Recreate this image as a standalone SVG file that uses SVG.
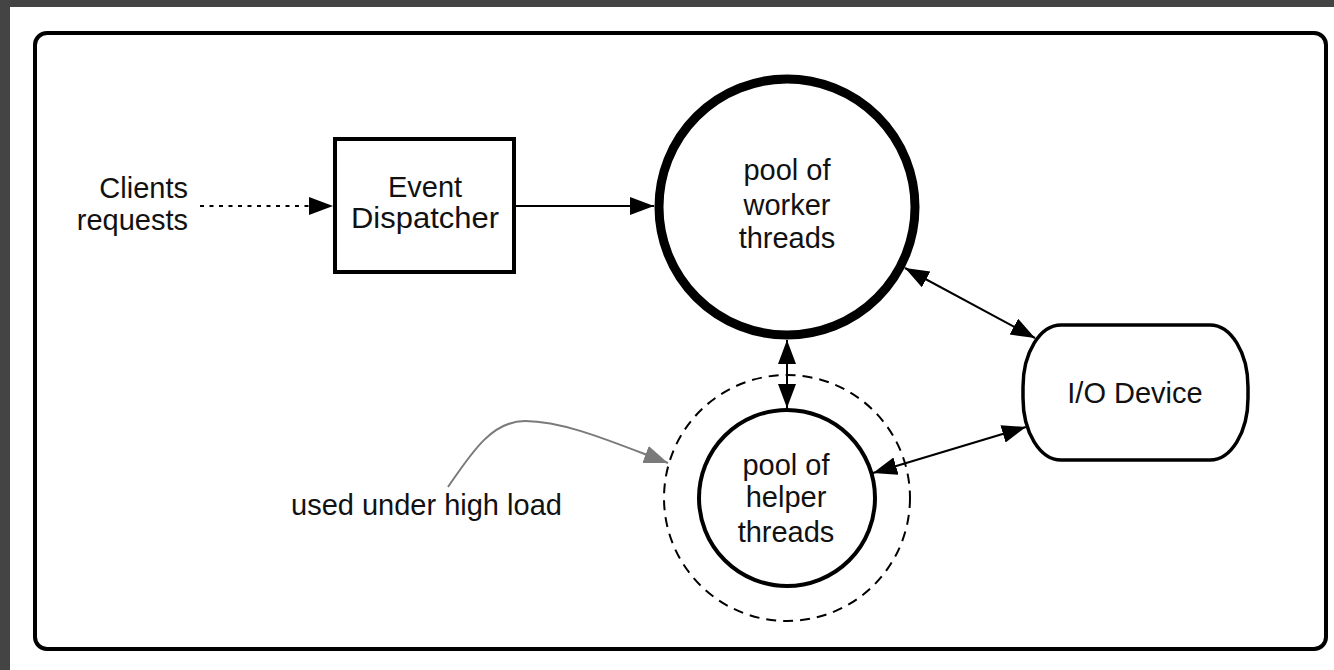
<svg xmlns="http://www.w3.org/2000/svg" width="1334" height="670" viewBox="0 0 1334 670">
  <style>
    .lbl { font-family: "Liberation Sans", Arial, sans-serif; font-size: 29px; fill: #111; }
    .mid { text-anchor: middle; }
    .node { fill: #fff; stroke: #000; }
    .conn { fill: none; stroke: #000; stroke-width: 2; }
  </style>
  <defs>
    <marker id="ah" markerUnits="userSpaceOnUse" markerWidth="26" markerHeight="20" refX="24" refY="9" orient="auto-start-reverse">
      <path d="M0,0 L24,9 L0,18 z" fill="#000"/>
    </marker>
    <marker id="ahg" markerUnits="userSpaceOnUse" markerWidth="26" markerHeight="20" refX="24" refY="9" orient="auto">
      <path d="M0,0 L24,9 L0,18 z" fill="#7a7a7a"/>
    </marker>
  </defs>

  <rect x="0" y="0" width="1334" height="670" fill="#444"/>
  <rect x="10" y="7" width="1324" height="663" fill="#fff"/>
  <rect id="frame" x="35" y="33" width="1291" height="616" rx="12" fill="#fff" stroke="#000" stroke-width="4"/>

  <g id="connectors">
    <path class="conn" d="M200,206 L333,206" stroke-dasharray="4 5.5" marker-end="url(#ah)"/>
    <path class="conn" d="M516,206 L654,206" marker-end="url(#ah)"/>
    <path class="conn" d="M905,268 L1035,338" marker-start="url(#ah)" marker-end="url(#ah)"/>
    <path class="conn" d="M873,473 L1026,427" marker-start="url(#ah)" marker-end="url(#ah)"/>
    <path class="conn" d="M787,340 L787,408" marker-start="url(#ah)" marker-end="url(#ah)"/>
    <path d="M448,487 C472,452 492,421 525,421 C565,421 615,443 668,463" fill="none" stroke="#7a7a7a" stroke-width="2" marker-end="url(#ahg)"/>
  </g>

  <g id="clients">
    <text class="lbl" x="188" y="198" text-anchor="end">Clients</text>
    <text class="lbl" x="188" y="230" text-anchor="end">requests</text>
  </g>

  <g id="dispatcher">
    <rect class="node" x="335" y="139" width="179" height="133" stroke-width="4"/>
    <text class="lbl mid" x="425" y="197">Event</text>
    <text class="lbl mid" x="425" y="228" textLength="148" lengthAdjust="spacingAndGlyphs">Dispatcher</text>
  </g>

  <g id="worker">
    <circle class="node" cx="787" cy="207" r="128" stroke-width="9"/>
    <text class="lbl mid" x="787" y="180">pool of</text>
    <text class="lbl mid" x="787" y="215">worker</text>
    <text class="lbl mid" x="787" y="248">threads</text>
  </g>

  <g id="helper-zone">
    <circle cx="787" cy="498" r="123" fill="none" stroke="#000" stroke-width="2" stroke-dasharray="10 7"/>
  </g>

  <g id="helper">
    <circle class="node" cx="787" cy="498" r="88" stroke-width="4"/>
    <text class="lbl mid" x="786" y="475">pool of</text>
    <text class="lbl mid" x="786" y="507">helper</text>
    <text class="lbl mid" x="786" y="542">threads</text>
  </g>

  <g id="io">
    <rect class="node" x="1023" y="325" width="225" height="135" rx="38" ry="62" stroke-width="3.5"/>
    <text class="lbl mid" x="1135" y="403">I/O Device</text>
  </g>

  <g id="note">
    <text class="lbl" x="291" y="515">used under high load</text>
  </g>
</svg>
